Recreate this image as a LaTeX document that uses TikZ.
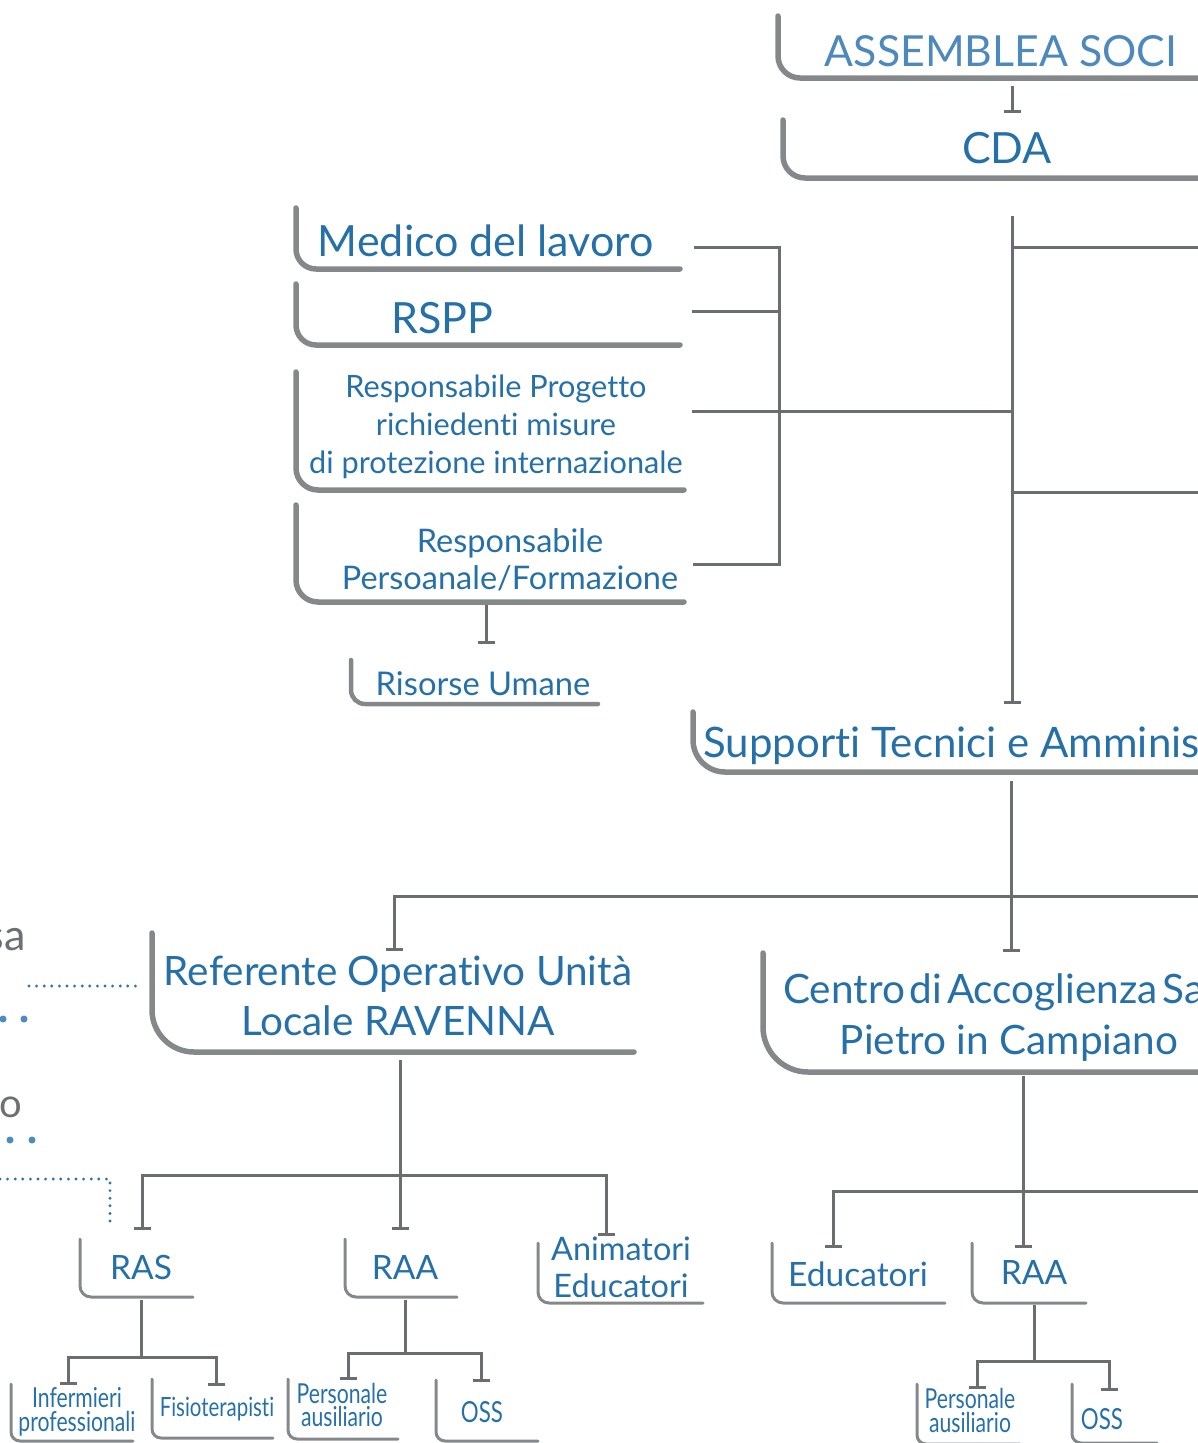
\documentclass[tikz,border=0pt]{standalone}
\usepackage{fontspec}
\setmainfont{Lato}[Ligatures=CommonOff]
\newfontfamily\condfont{Lato}[FakeStretch=0.77,Ligatures=CommonOff]
\usetikzlibrary{arrows.meta}
\definecolor{tblue}{HTML}{2670AA}
\definecolor{lblue}{HTML}{4D89BD}
\definecolor{bgray}{HTML}{85888A}
\definecolor{cgray}{HTML}{6B6E70}
\definecolor{lgray}{HTML}{6E6F70}
\definecolor{dblue}{HTML}{2E72AE}
\definecolor{pblue}{HTML}{4A8CC4}
\begin{document}
\begin{tikzpicture}[x=1pt,y=-1pt,
  brk/.style={draw=bgray,line width=5.5pt,line cap=round},
  brks/.style={draw=bgray,line width=3pt,line cap=round,rounded corners=11pt},
  conn/.style={draw=cgray,line width=3pt},
  tee/.style={conn,-{Bar[width=17pt]}},
  tee2/.style={conn,{Bar[width=17pt]}-{Bar[width=17pt]}},
  lbl/.style={text=tblue,anchor=base,inner sep=0pt},
  fsz/.style={font=\fontsize{#1}{#1}\selectfont},
  csz/.style={font=\condfont\fontsize{#1}{#1}\selectfont},
  dotl/.style={draw=dblue,line width=3.2pt,line cap=round,dash pattern=on 0pt off 7.6pt},
  dotn/.style={circle,fill=pblue,inner sep=0pt,minimum size=7pt}
]
\useasboundingbox (0,0) rectangle (1198,1443);
\clip (0,0) rectangle (1198,1443);

% ---------- top ----------
\node[lbl,text=lblue,fsz=42.8] (as) at (1001,66) {ASSEMBLEA SOCI};
\draw[brk,rounded corners=22pt] (778,16) -- (778,78) -- (1215,78);
\node[lbl,fsz=43] (cda) at (1007,163) {CDA};
\draw[brk,rounded corners=22pt] (783,120) -- (783,178) -- (1215,178);

\coordinate (as-out) at (1012,86);
\coordinate (cda-in) at (1012,113);
\draw[tee] (as-out) -- (cda-in);

\coordinate (cda-out) at (1012,216);
\coordinate (sup-in) at (1012,704);
\draw[tee] (cda-out) -- (sup-in);
\coordinate (r1) at (1215,247);
\coordinate (r2) at (1215,492);
\draw[conn] (cda-out |- r1) -- (r1);
\draw[conn] (cda-out |- r2) -- (r2);

\coordinate (rp-out) at (692,411);
\draw[conn] (rp-out) -- (rp-out -| cda-out);
\coordinate (med-out) at (694,247);
\coordinate (rspp-out) at (692,311);
\coordinate (pers-out) at (693,564);
\coordinate (brkx) at (779,0);
\draw[conn] (med-out) -- (med-out -| brkx) -- (pers-out -| brkx) -- (pers-out);
\draw[conn] (rspp-out) -- (rspp-out -| brkx);

% ---------- staff boxes ----------
\node[lbl,fsz=43] (med) at (486,256) {Medico del lavoro};
\draw[brk,rounded corners=20pt] (296,208) -- (296,269) -- (680,269);
\node[lbl,fsz=43] (rspp) at (442,333) {RSPP};
\draw[brk,rounded corners=20pt] (296,284) -- (296,345) -- (680,345);
\node[lbl,fsz=30.7] (rp1) at (496,397) {Responsabile Progetto};
\node[lbl,fsz=30.7] (rp2) at (496,435) {richiedenti misure};
\node[lbl,fsz=30.7] (rp3) at (496,473) {di protezione internazionale};
\draw[brk,rounded corners=22pt] (296,372) -- (296,490) -- (684,490);
\node[lbl,fsz=32.5] (pf1) at (510,552) {Responsabile};
\node[lbl,fsz=32.5] (pf2) at (510,589) {Persoanale/Formazione};
\draw[brk,rounded corners=22pt] (296,505) -- (296,602) -- (684,602);

\coordinate (pf-out) at (486,605);
\coordinate (ru-in) at (486,644);
\draw[tee] (pf-out) -- (ru-in);
\node[lbl,fsz=32.7] (ru) at (483,695) {Risorse Umane};
\draw[brk,line width=4.5pt,rounded corners=14pt] (351,660) -- (351,704) -- (598,704);

% ---------- Supporti ----------
\node[lbl,anchor=base west,fsz=42] (sup) at (703,757) {Supporti Tecnici e Amministrativi};
\draw[brk,rounded corners=32pt] (693,712) -- (693,772) -- (1215,772);

\coordinate (sup-out) at (1011,781);
\coordinate (cen-in) at (1011,952);
\draw[tee] (sup-out) -- (cen-in);
\coordinate (hr) at (1215,896);
\coordinate (ref-in) at (394,951);
\draw[tee] (hr) -- (ref-in |- hr) -- (ref-in);

% ---------- Referente ----------
\node[lbl,fsz=40.5] (ref1) at (398,985) {Referente Operativo Unità};
\node[lbl,fsz=40.5] (ref2) at (398,1035) {Locale RAVENNA};
\draw[brk,rounded corners=42pt] (152,933) -- (152,1052) -- (634,1052);

% ---------- Centro ----------
\node[lbl,anchor=base west,fsz=40.5] (cen1) at (783,1003) {\spaceskip=0.12em\relax Centro di Accoglienza San};
\node[lbl,fsz=40.5] (cen2) at (1009,1054) {Pietro in Campiano};
\draw[brk,rounded corners=45pt] (763,953) -- (763,1072) -- (1215,1072);

% ---------- left partial ----------
\node[text=lgray,anchor=base east,inner sep=0pt,fsz=43] (sa) at (26,950) {sa};
\node[text=lgray,anchor=base east,inner sep=0pt,fsz=40] (o) at (22,1117) {o};
\node[dotn] (d1) at (3,1019) {};
\node[dotn] (d2) at (24,1019) {};
\node[dotn] (d3) at (10,1140) {};
\node[dotn] (d4) at (32,1140) {};
\coordinate (dl1a) at (29,986);
\coordinate (dl1b) at (142,986);
\draw[dotl] (dl1a) -- (dl1b);
\coordinate (dl2a) at (0,1179);
\coordinate (dl2b) at (110,1226);
\draw[dotl] (dl2a) -- (dl2a -| dl2b) -- (dl2b);

% ---------- Ravenna children ----------
\coordinate (ref-out) at (400,1060);
\coordinate (raa1-in) at (400,1230);
\draw[tee] (ref-out) -- (raa1-in);
\coordinate (ref-h) at (400,1175);
\coordinate (ras-in) at (142,1230);
\coordinate (ani-in) at (606,1236);
\draw[tee2] (ras-in) -- (ras-in |- ref-h) -- (ani-in |- ref-h) -- (ani-in);

\node[lbl,fsz=33.5] (ras) at (141,1279) {RAS};
\draw[brks] (80,1239) -- (80,1297) -- (193,1297);
\node[lbl,fsz=33.5] (raa1) at (405,1279) {RAA};
\draw[brks] (345,1239) -- (345,1297) -- (457,1297);
\node[lbl,fsz=32.4] (ani1) at (621,1260) {Animatori};
\node[lbl,fsz=32.4] (ani2) at (621,1297) {Educatori};
\draw[brks] (538,1243) -- (538,1303) -- (703,1303);

\coordinate (ras-out) at (141,1300);
\coordinate (ras-h) at (141,1357);
\draw[conn] (ras-out) -- (ras-h);
\coordinate (inf-in) at (68,1385);
\coordinate (fis-in) at (216,1386);
\draw[tee2] (inf-in) -- (inf-in |- ras-h) -- (fis-in |- ras-h) -- (fis-in);

\node[lbl,csz=27.5] (inf1) at (77,1407) {Infermieri};
\node[lbl,csz=27.5] (inf2) at (77,1431) {professionali};
\draw[brks,rounded corners=9pt] (11,1384) -- (11,1441) -- (133,1441);
\node[lbl,csz=26.5] (fis) at (217,1416) {Fisioterapisti};
\draw[brks,rounded corners=9pt] (152,1379) -- (152,1438) -- (273,1438);

\coordinate (raa1-out) at (405,1300);
\coordinate (raa1-h) at (405,1353);
\draw[conn] (raa1-out) -- (raa1-h);
\coordinate (pa1-in) at (348,1380);
\coordinate (oss1-in) at (481,1382);
\draw[tee2] (pa1-in) -- (pa1-in |- raa1-h) -- (oss1-in |- raa1-h) -- (oss1-in);

\node[lbl,csz=27.5] (pa11) at (342,1403) {Personale};
\node[lbl,csz=27.5] (pa12) at (342,1426) {ausiliario};
\draw[brks,rounded corners=9pt] (288,1379) -- (288,1439) -- (398,1439);
\node[lbl,csz=29] (oss1) at (482,1422) {OSS};
\draw[brks,rounded corners=9pt] (436,1380) -- (436,1441) -- (538,1441);

% ---------- Centro children ----------
\coordinate (cen-out) at (1023,1076);
\coordinate (raa2-in) at (1023,1248);
\draw[tee] (cen-out) -- (raa2-in);
\coordinate (hr2) at (1215,1191);
\coordinate (edu-in) at (833,1248);
\draw[tee] (hr2) -- (edu-in |- hr2) -- (edu-in);

\node[lbl,fsz=33.5] (edu) at (858,1286) {Educatori};
\draw[brks] (772,1243) -- (772,1303) -- (945,1303);
\node[lbl,fsz=33.5] (raa2) at (1034,1284) {RAA};
\draw[brks] (972,1243) -- (972,1303) -- (1086,1303);

\coordinate (raa2-out) at (1034,1305);
\coordinate (raa2-h) at (1034,1361);
\draw[conn] (raa2-out) -- (raa2-h);
\coordinate (pa2-in) at (977,1389);
\coordinate (oss2-in) at (1109,1391);
\draw[tee2] (pa2-in) -- (pa2-in |- raa2-h) -- (oss2-in |- raa2-h) -- (oss2-in);

\node[lbl,csz=27.5] (pa21) at (970,1408) {Personale};
\node[lbl,csz=27.5] (pa22) at (970,1432) {ausiliario};
\draw[brks,rounded corners=9pt] (917,1384) -- (917,1444) -- (1020,1444);
\node[lbl,csz=29] (oss2) at (1102,1429) {OSS};
\draw[brks,rounded corners=9pt] (1072,1384) -- (1072,1443) -- (1157,1443);
\end{tikzpicture}
\end{document}
